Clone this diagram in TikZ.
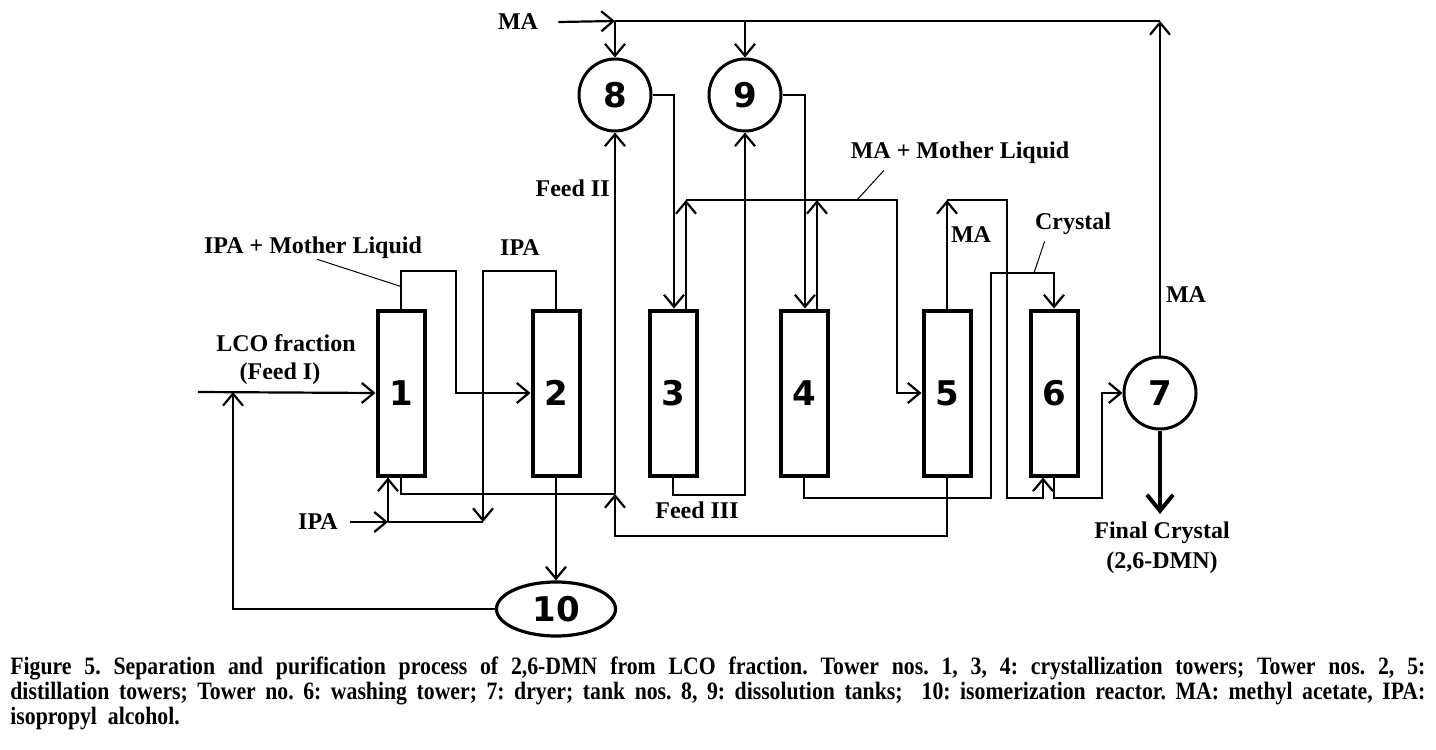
\documentclass[tikz,border=0pt]{standalone}
\usepackage{fontspec}
\usepackage{tikz}
\usetikzlibrary{calc}
\usetikzlibrary{shapes}
\usetikzlibrary{arrows.meta}
\newfontfamily\lblfam{Liberation Serif}
\newfontfamily\numfam{DejaVu Sans}
\newfontfamily\capfam{Liberation Serif}[FakeStretch=0.87]
\frenchspacing

\begin{document}
\begin{tikzpicture}[x=0.5pt, y=-0.5pt,
  tower/.style={draw, line width=2pt, minimum width=23.5pt, minimum height=82.5pt, inner sep=0pt,
    font=\numfam\bfseries\fontsize{17}{17}\selectfont},
  tank/.style={draw, circle, line width=1.5pt, minimum size=36pt, inner sep=0pt,
    font=\numfam\bfseries\fontsize{17}{17}\selectfont},
  reactor/.style={draw, ellipse, line width=1.6pt, minimum width=59.5pt, minimum height=27pt, inner sep=0pt,
    font=\numfam\bfseries\fontsize{17}{17}\selectfont},
  lbl/.style={inner sep=0pt, font=\lblfam\bfseries\fontsize{12}{13}\selectfont},
  pipe/.style={line width=1.1pt},
  flow/.style={pipe, -{Straight Barb[length=6pt,width=10pt]}},
  lead/.style={line width=0.5pt}]
  \useasboundingbox (0,0) rectangle (1436,750);

  \node[tower] (t1) at (401,393) {1};
  \node[tower] (t2) at (556,393) {2};
  \node[tower] (t3) at (673,393) {3};
  \node[tower] (t4) at (804,393) {4};
  \node[tower] (t5) at (947,393) {5};
  \node[tower] (t6) at (1054,393) {6};
  \node[tank] (c7) at (1160,393) {7};
  \node[tank] (c8) at (615,95) {8};
  \node[tank] (c9) at (745,95) {9};
  \node[reactor] (r10) at (556,609) {10};

  \node[lbl] (maTop) at (518,22) {MA};
  \node[lbl] (ipaml) at (313,248) {IPA + Mother Liquid};
  \node[lbl] (ipaTop) at (520,248) {IPA};
  \node[lbl] (lco) at (286,343) {LCO fraction};
  \node[lbl] (feedI) at (280,374) {(Feed I)};
  \node[lbl] (ipaIn) at (318,522) {IPA};
  \node[lbl, anchor=east] (feedII) at (610,188) {Feed II};
  \node[lbl] (feedIII) at (697,510) {Feed III};
  \node[lbl] (maml) at (960,153) {MA + Mother Liquid};
  \node[lbl] (ma5l) at (971,235) {MA};
  \node[lbl] (crystal) at (1073,224) {Crystal};
  \node[lbl] (ma7l) at (1186,295) {MA};
  \node[lbl] (fin) at (1162,533) {Final Crystal};
  \node[lbl] (dmn) at (1162,563) {(2,6-DMN)};

  \coordinate (j8) at (615,21);
  \coordinate (j9) at (745,21);
  \coordinate (j7) at (1160,21);
  \coordinate (ml1) at (456,271);
  \coordinate (ml2) at (483,271);
  \coordinate (ipa2) at (483,522);
  \coordinate (ipaj) at (388,522);
  \coordinate (lcoIn) at (198,392);
  \coordinate (lcoj) at (233,392);
  \coordinate (f2) at (615,494);
  \coordinate (f2b) at (615,536);
  \coordinate (f3) at (745,495);
  \coordinate (ml3) at (686,200);
  \coordinate (ml4) at (817,200);
  \coordinate (mlR) at (897,200);
  \coordinate (c4b) at (991,498);
  \coordinate (cr) at (991,273);
  \coordinate (ma5) at (947,200);
  \coordinate (ma5r) at (1007,200);
  \coordinate (w6) at (1043,498);
  \coordinate (p6) at (1102,498);
  \coordinate (fc) at (1160,514);

  \draw[flow] ([xshift=10pt]maTop.east) -- (j8);
  \draw[pipe] (j8) -- (j7);
  \draw[flow] (j8) -- (c8.north);
  \draw[flow] (j9) -- (c9.north);
  \draw[flow] (c7.north) -- (j7);

  \draw[flow] (lcoIn) -- (t1.west);
  \draw[flow] (r10.west) -| (lcoj);
  \draw[flow] (t1.north) |- (ml1) |- (t2.west);
  \draw[flow] (t2.north) |- (ml2) -- (ipa2);
  \draw[flow] ([xshift=6pt]ipaIn.east) -- (ipaj);
  \draw[pipe] (ipaj) -- (ipa2);
  \draw[flow] (ipaj) -- ($(t1.south)+(-13,0)$);
  \draw[flow] (t2.south) -- (r10.north);
  \draw[lead] ([xshift=2pt]ipaml.south) -- ($(t1.north)+(0,-22)$);

  \draw[pipe] (t1.south) |- (f2);
  \draw[flow] (t5.south) |- (f2b) -- (f2);
  \draw[flow] (f2) -- (c8.south);
  \draw[flow] (t3.south) |- (f3) -- (c9.south);

  \draw[flow] (c8.east) -| ($(t3.north)+(1,0)$);
  \draw[flow] (c9.east) -| ($(t4.north)+(1,0)$);
  \draw[flow] ($(t3.north)+(13,0)$) -- (ml3);
  \draw[flow] ($(t4.north)+(13,0)$) -- (ml4);
  \draw[flow] (ml3) -- (mlR) |- (t5.west);
  \draw[lead] ($(mlR)+(-40,0)$) -- ([xshift=-38pt,yshift=-3pt]maml.south);

  \draw[flow] (t4.south) |- (c4b) -- (cr) -| (t6.north);
  \draw[lead] ($(cr)+(43,0)$) -- ([xshift=5pt,yshift=-3pt]crystal.south west);
  \draw[flow] (t5.north) -- (ma5);
  \draw[flow] (ma5) -- (ma5r) |- (w6) -- ($(t6.south)+(-11,0)$);
  \draw[flow] (t6.south) |- (p6) |- (c7.west);
  \draw[line width=2pt, -{Straight Barb[length=8pt,width=13pt]}] (c7.south) -- (fc);

  \node[anchor=north west, inner sep=0pt, text width=707.5pt, align=justify,
    font=\capfam\bfseries\fontsize{12.5}{12.7}\selectfont] (cap) at (10,656)
    {Figure 5. Separation and purification process of 2,6-DMN from LCO fraction. Tower nos. 1, 3, 4: crystallization towers; Tower nos. 2, 5:\linebreak
    distillation towers; Tower no. 6: washing tower; 7: dryer; tank nos. 8, 9: dissolution tanks;\ \ 10: isomerization reactor. MA: methyl acetate, IPA:\linebreak
    isopropyl\ \ alcohol.};
\end{tikzpicture}
\end{document}
